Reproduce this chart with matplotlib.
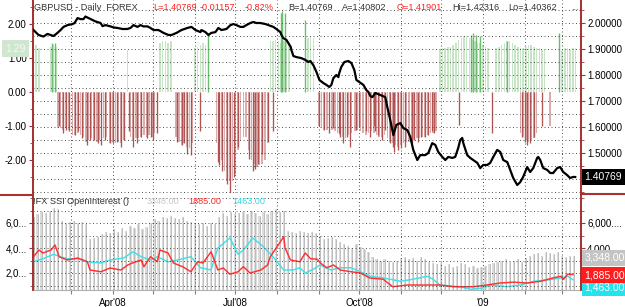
import numpy as np
import matplotlib
matplotlib.use("Agg")
import matplotlib.pyplot as plt
import matplotlib.dates as mdates
from matplotlib.ticker import MultipleLocator, FixedLocator, FuncFormatter
from matplotlib.transforms import blended_transform_factory
from matplotlib.lines import Line2D

plt.rcParams['font.family'] = ['Liberation Sans', 'DejaVu Sans']

# ---------------- data (days counted from 2008-02-02) ----------------
BASE_DATE = '2008-02-02'

price_days = [0, 3.7, 7.4, 10.4, 14.9, 17.8, 20.1, 22.3, 25.3, 29.0, 30.5, 32.7, 34.9, 37.1, 38.6, 40.9, 43.8, 46.1,
              49.8, 51.3, 53.5, 57.2, 59.4, 62.4, 66.1, 69.8, 72.1, 74.3, 77.3, 79.5, 81.7, 84.7, 86.9, 89.2, 92.9,
              96.6, 100.3, 102.6, 106.3, 110.0, 114.4, 117.4, 120.4, 124.1, 124.8, 127.8, 130.0, 132.2, 135.2, 137.4,
              139.7, 143.4, 146.4, 148.6, 150.8, 153.8, 156.0, 158.2, 161.2, 163.4, 165.7, 168.6, 172.4, 174.6, 178.3,
              180.5, 183.5, 184.3, 185.7, 188.0, 191.2, 191.7, 193.2, 195.4, 199.1, 202.1, 204.3, 205.8, 208.0, 210.3,
              212.5, 215.5, 217.7, 219.9, 221.4, 222.9, 225.1, 226.6, 227.3, 228.8, 231.1, 234.0, 236.3, 238.5, 240.0,
              242.2, 245.2, 247.4, 248.9, 250.4, 251.9, 254.1, 257.8, 261.5, 263.0, 265.2, 267.5, 269.7, 272.7, 274.9,
              277.9, 280.1, 282.3, 285.3, 287.5, 291.2, 293.5, 296.4, 298.7, 300.9, 303.9, 306.1, 308.3, 311.3, 313.5,
              315.7, 317.2, 318.7, 319.5, 322.4, 324.7, 326.9, 329.9, 332.1, 334.3, 337.3, 339.5, 341.8, 344.7, 347.0,
              349.2, 352.2, 354.4, 356.6, 359.6, 361.8, 364.0, 367.0, 369.2, 371.5, 374.4, 375.2, 376.7, 378.9, 381.9,
              384.1, 386.3, 389.3, 391.5, 393.8, 396.7, 398.9, 401.2, 402.7]
price_vals = [1.973, 1.954, 1.948, 1.958, 1.950, 1.962, 1.973, 1.985, 1.992, 1.996, 2.000, 2.019, 2.015, 2.015, 2.025,
              2.019, 2.012, 2.006, 2.000, 1.988, 1.992, 1.987, 1.983, 1.981, 1.977, 1.977, 1.981, 1.992, 1.985, 1.992,
              1.987, 1.987, 1.981, 1.973, 1.973, 1.962, 1.954, 1.954, 1.962, 1.973, 1.981, 1.985, 1.973, 1.965, 1.973,
              1.965, 1.954, 1.962, 1.965, 1.981, 1.973, 1.977, 1.992, 1.996, 1.992, 1.985, 1.985, 1.992, 2.000, 2.004,
              2.000, 2.000, 1.996, 1.992, 1.985, 1.977, 1.965, 1.954, 1.942, 1.935, 1.908, 1.896, 1.873, 1.869, 1.865,
              1.858, 1.850, 1.854, 1.838, 1.812, 1.781, 1.769, 1.762, 1.754, 1.762, 1.788, 1.800, 1.792, 1.808, 1.831,
              1.850, 1.854, 1.846, 1.819, 1.781, 1.773, 1.762, 1.742, 1.735, 1.719, 1.715, 1.731, 1.723, 1.715, 1.677,
              1.627, 1.569, 1.608, 1.615, 1.596, 1.588, 1.562, 1.512, 1.473, 1.492, 1.492, 1.500, 1.538, 1.531, 1.504,
              1.485, 1.473, 1.485, 1.481, 1.485, 1.519, 1.550, 1.558, 1.538, 1.492, 1.481, 1.473, 1.462, 1.442, 1.454,
              1.454, 1.462, 1.485, 1.512, 1.504, 1.473, 1.465, 1.435, 1.404, 1.377, 1.388, 1.408, 1.446, 1.427, 1.442,
              1.481, 1.485, 1.473, 1.442, 1.435, 1.423, 1.423, 1.442, 1.446, 1.427, 1.415, 1.404, 1.408, 1.40769]

ssi_pos_light_days = [0, 2, 4, 13, 15, 17, 70, 94, 96, 98, 100, 102, 120, 122, 124, 126, 128, 130,
                      176, 178, 180, 182, 184, 186, 188, 190, 204, 206, 208,
                      302, 304, 306, 308, 310, 312, 314, 316, 318, 320, 322, 324, 326, 328, 330, 332, 334, 336, 338,
                      344, 346, 348, 350, 352, 354, 356, 358, 360, 362, 364, 366, 368, 370, 372, 374, 376, 378, 380,
                      393, 395, 397, 399, 401, 403]
ssi_pos_light_vals = [1.45, 1.4, 1.3, 1.35, 1.4, 1.35, 1.25, 1.45, 1.5, 1.5, 1.45, 1.5, 1.3, 1.35, 1.4, 1.45, 1.4, 1.35,
                      1.5, 1.5, 1.55, 1.5, 1.45, 1.5, 1.5, 1.45, 1.6, 1.65, 1.6,
                      1.25, 1.3, 1.3, 1.35, 1.35, 1.4, 1.45, 1.55, 1.6, 1.65, 1.65, 1.6, 1.55, 1.5, 1.45, 1.45, 1.4,
                      1.35, 1.3,
                      1.3, 1.35, 1.4, 1.45, 1.5, 1.5, 1.45, 1.4, 1.35, 1.3, 1.3, 1.35, 1.4, 1.4, 1.35, 1.3, 1.3, 1.25,
                      1.25,
                      1.25, 1.3, 1.3, 1.25, 1.3, 1.3]
ssi_pos_dark_days = [14, 16, 130, 184, 185, 187, 202, 325, 327, 329, 332, 352, 391]
ssi_pos_dark_vals = [1.45, 1.45, 1.75, 2.35, 2.4, 2.35, 2.13, 1.7, 1.75, 1.7, 1.65, 1.5, 1.75]

ssi_neg_light_days = [18, 20, 22, 24, 26, 29, 31, 33, 35, 37, 39, 41, 43, 45, 47, 49, 52, 54,
                      57, 59, 61, 63, 65, 67, 72, 74, 76, 78, 80, 82, 84, 86, 88, 90, 92,
                      106, 108, 110, 112, 114, 116, 118,
                      136, 138, 140, 142, 144, 146, 148, 150, 152, 154, 156,
                      158, 160, 162, 164, 166, 168, 170, 172, 174,
                      212, 214, 216, 218, 220, 222, 224, 226, 228, 230, 232, 234, 236,
                      239, 241, 243, 245, 247, 249, 251, 253, 255, 257, 259, 261, 263, 265, 267, 269, 271, 273, 275,
                      277, 279, 281, 283, 285, 287, 289, 291, 293, 295, 297, 299,
                      362, 364, 366, 368, 370, 372, 374, 384]
ssi_neg_light_vals = [-1.05, -1.05, -1.1, -1.05, -1.1, -1.25, -1.25, -1.2, -1.25,
                      -1.3, -1.45, -1.4, -1.35, -1.4, -1.45, -1.4, -1.35, -1.3,
                      -1.5, -1.45, -1.5, -1.45, -1.5, -1.4, -1.3, -1.4, -1.35, -1.35, -1.3,
                      -1.25, -1.3, -1.25, -1.3, -1.2, -1.15,
                      -1.3, -1.45, -1.55, -1.5, -1.6, -1.65, -1.5,
                      -1.5, -1.8, -2.0, -2.3, -2.6, -2.6, -2.6, -2.4, -1.7, -1.4, -1.3,
                      -1.3, -1.7, -2.0, -2.1, -2.2, -2.15, -2.1, -2.0, -1.5,
                      -1.0, -1.05, -1.1, -1.1, -1.15, -1.1, -1.15, -1.2, -1.25, -1.3, -1.35, -1.25, -1.2,
                      -1.15, -1.1, -1.15, -1.2, -1.25, -1.2, -1.15, -1.2, -1.25, -1.3, -1.3, -1.25, -1.35, -1.45,
                      -1.5, -1.55, -1.6, -1.55, -1.5, -1.45, -1.45, -1.4, -1.4, -1.35, -1.35, -1.3, -1.3, -1.25,
                      -1.2, -1.2, -1.15,
                      -1.2, -1.3, -1.4, -1.45, -1.4, -1.35, -1.2, -1.0]
ssi_neg_dark_days = [19, 22, 24, 26, 31, 33, 36, 40, 42, 45, 48, 50, 53, 57, 59, 62, 65, 67, 71, 74,
                     77, 80, 84, 87, 89, 92, 107, 110, 112, 114, 117, 124, 137, 138, 140, 144, 146, 149, 152, 160,
                     163, 165, 167, 170, 174, 178,
                     212, 216, 220, 223, 227, 228, 230, 233, 235, 240, 242, 247, 250, 253, 254, 256, 259, 261, 265,
                     267, 268, 271, 273, 276, 281, 283, 286, 288, 291, 293, 296, 298,
                     316, 341, 363, 365, 367, 369, 372, 378]
ssi_neg_dark_vals = [-1.0, -1.2, -1.1, -1.15, -1.25, -1.15, -1.35, -1.55, -1.4, -1.4,
                     -1.5, -1.55, -1.4, -1.5, -1.5, -1.45, -1.6, -1.4, -1.15, -1.6,
                     -1.5, -1.3, -1.35, -1.3, -1.4, -1.2, -1.45, -1.55, -1.5, -1.8,
                     -1.85, -1.15, -2.05, -2.15, -2.3, -2.7, -2.95, -2.5, -1.6, -1.95,
                     -2.3, -2.25, -2.1, -1.8, -1.45, -1.15,
                     -1.0, -1.1, -1.2, -1.05, -1.2, -1.3, -1.5, -1.3, -1.6, -1.1,
                     -1.0, -1.15, -1.3, -1.0, -1.15, -1.25, -1.4, -1.1, -1.5, -1.6,
                     -1.75, -1.7, -1.65, -1.6, -1.5, -1.4, -1.45, -1.3, -1.3, -1.25,
                     -1.15, -1.2,
                     -0.95, -1.2, -1.3, -1.45, -1.55, -1.5, -1.3, -1.0]

oi_total_days = list(range(0, 403, 3))
oi_total_vals = [6500, 6700, 6900, 6800, 7000, 7200, 7100, 6200, 6000, 6100, 6200, 6000, 6100, 5900, 4700, 4800,
                 4900, 5100, 5300, 5200, 5500, 5300, 5600, 5400, 5800, 5600, 5900, 5500, 5700, 6000, 6300, 6200,
                 6500, 6400, 6600, 6400, 6300, 6500, 6200, 6100, 6000, 5900, 6000, 5800, 6000, 5900, 6500, 6800,
                 6600, 6900, 6700, 6800, 6900, 6700, 7000, 6800, 6600, 6900, 6700, 7000, 7100, 6900, 7000, 5400,
                 5300, 5200, 5400, 5300, 5200, 5300, 5200, 5000, 4700, 4800, 4900, 4700, 4500, 4300, 4200, 4000,
                 4300, 4100, 3900, 3700, 3300, 3100, 3000, 3100, 3000, 2900, 3000, 3200, 3300, 3100, 3200, 3000,
                 3300, 3100, 2900, 2800, 2700, 2800, 2600, 2700, 2500, 2600, 2800, 2700, 2500, 2600, 2400, 2500,
                 2600, 2700, 2800, 2900, 3000, 3100, 2900, 3000, 3100, 2900, 3200, 3400, 3500, 3600, 3400, 3700,
                 3600, 3500, 3700, 3400, 3300, 3400, 3348]

oi_long_days = [0, 4, 7, 13, 16, 19, 25, 33, 40, 42, 50, 57, 65, 70, 74, 80, 82, 87, 92, 94, 100, 104, 111, 117,
                122, 126, 132, 137, 141, 146, 152, 156, 161, 169, 174, 176, 181, 186, 187, 191, 198, 202, 206, 211,
                213, 218, 223, 228, 236, 243, 250, 260, 267, 278, 293, 302, 312, 327, 337, 347, 357, 367, 377, 386,
                392, 394, 397, 401]
oi_long_vals = [3300, 3840, 3600, 3840, 4240, 3300, 3040, 3200, 2900, 2240, 2100, 2400, 2240, 2640, 2820, 3040, 2500,
                3300, 2900, 3840, 3600, 2800, 2500, 2100, 2900, 2800, 3700, 2240, 2400, 1900, 2100, 2500, 2000, 2240,
                2640, 3300, 4100, 4900, 4000, 3040, 2900, 3600, 3140, 3100, 2820, 2420, 2640, 2240, 2100, 2000, 1600,
                1500, 900, 1040, 1040, 1040, 900, 900, 1040, 1200, 1270, 1200, 1340, 1600, 1740, 1500, 1900, 1885]

oi_short_days = [0, 7, 15, 20, 25, 33, 40, 50, 57, 67, 74, 80, 87, 92, 100, 107, 117, 124, 132, 137, 146, 152, 156,
                 163, 171, 178, 186, 193, 198, 202, 208, 213, 221, 228, 236, 243, 250, 260, 273, 282, 293, 297, 302,
                 317, 325, 334, 340, 352, 362, 372, 382, 392, 397, 401]
oi_short_vals = [2900, 3140, 3500, 3300, 3140, 3140, 2900, 2800, 3040, 3200, 3700, 3300, 3040, 3300, 2900, 3040, 3300,
                 2420, 2240, 4000, 4800, 3500, 3840, 4800, 4100, 3300, 2240, 2240, 2420, 2000, 2300, 2640, 2240, 2420,
                 2420, 2100, 1740, 1600, 1340, 1500, 1740, 1500, 1040, 900, 700, 800, 1040, 900, 1040, 1340, 1440, 1600,
                 1740, 1463]

price_left_ticks = [-2.0, -1.0, 0.0, 1.0, 2.0]
oi_left_ticks = [2000, 4000, 6000]
oi_left_labels = ['2,0...', '4,0...', '6,0...']
oi_right_labels = ['', '4,000....', '6,000....']

# ---------------- figure ----------------
W, H = 625, 307
fig = plt.figure(figsize=(W / 100, H / 100), dpi=100)
fig.patch.set_facecolor('white')


def fx(px):
    return px / W


def fy(py):
    return 1 - py / H


base = mdates.date2num(np.datetime64(BASE_DATE))


def X(days):
    return base + np.asarray(days, dtype=float)


SP = '#a83232'
GRID = dict(color='#505050', linestyle=(0, (1, 2.6)), linewidth=0.7)
FS = 7
HFS = 6.6

ax = fig.add_axes([fx(33), fy(193), fx(581) - fx(33), fy(0) - fy(193)])
axp = ax.twinx()
axb = fig.add_axes([fx(33), fy(290), fx(581) - fx(33), fy(196) - fy(290)], sharex=ax)
axbr = axb.twinx()

ax.set_xlim(base - 0.4, base + 407)
ax.set_ylim(-2.96, 2.72)
axp.set_ylim(1.3462, 2.0885)
axb.set_ylim(640, 8160)
axbr.set_ylim(640, 8160)

# SSI histogram
ax.bar(X(ssi_pos_light_days), ssi_pos_light_vals, width=1.15, color='#c8e5c8', linewidth=0, zorder=1)
ax.bar(X(ssi_neg_light_days), ssi_neg_light_vals, width=1.15, color='#dcadad', linewidth=0, zorder=1)
ax.vlines(X(ssi_pos_dark_days), 0, ssi_pos_dark_vals, color='#6cbf6c', linewidth=1.0, zorder=2)
ax.vlines(X(ssi_neg_dark_days), 0, ssi_neg_dark_vals, color='#b25454', linewidth=0.95, zorder=2)

# price
axp.plot(X(price_days), price_vals, color='black', linewidth=1.6, zorder=5)

# open interest
axb.bar(X(oi_total_days), oi_total_vals, width=1.7, bottom=0, color='#dcdcdc', linewidth=0, zorder=1)
axb.vlines(X(oi_total_days), 0, oi_total_vals, color='#b4b4b4', linewidth=0.55, zorder=1.2)
axb.plot(X(oi_short_days), oi_short_vals, color='#3fe0e6', linewidth=1.05, zorder=3)
axb.plot(X(oi_long_days), oi_long_vals, color='#ff3030', linewidth=1.05, zorder=4)

# ---- axes styling ----
month_loc = mdates.MonthLocator()


def xfmt(x, pos):
    d = mdates.num2date(x)
    if d.month == 1:
        return "'" + d.strftime('%y')
    if d.month in (4, 7, 10):
        return d.strftime("%b'%y")
    return ''


axb.xaxis.set_major_locator(month_loc)
axb.xaxis.set_major_formatter(FuncFormatter(xfmt))

for a in (ax, axp, axb, axbr):
    for s in a.spines.values():
        s.set_color(SP)
        s.set_linewidth(1.3)
    a.spines['top'].set_visible(False)

ax.spines['bottom'].set_visible(False)
axp.spines['bottom'].set_visible(False)
axb.spines['bottom'].set_color('#b0b0b0')
axb.spines['bottom'].set_linewidth(0.8)
axbr.spines['bottom'].set_visible(False)

# top-left axis
ax.yaxis.set_major_locator(FixedLocator(price_left_ticks))
ax.yaxis.set_minor_locator(MultipleLocator(0.5))
ax.yaxis.set_major_formatter(FuncFormatter(lambda v, p: '%.2f' % v))
ax.tick_params(axis='y', which='major', length=3, color=SP, labelsize=FS, pad=1.5)
ax.tick_params(axis='y', which='minor', length=2, color=SP)
ax.tick_params(axis='x', which='both', bottom=False, labelbottom=False)
ax.grid(axis='x', **GRID)

# top-right price axis (1.40000 label sits under the last-value box)
axp.yaxis.set_major_locator(MultipleLocator(0.1))
axp.yaxis.set_minor_locator(MultipleLocator(0.05))
axp.yaxis.set_major_formatter(FuncFormatter(lambda v, p: '' if abs(v - 1.4) < 1e-6 else '%.5f' % v))
axp.tick_params(axis='y', which='major', length=3, color=SP, labelsize=FS, pad=1.5)
axp.tick_params(axis='y', which='minor', length=2, color=SP)
axp.grid(axis='y', which='both', **GRID)
axp.tick_params(axis='x', which='both', bottom=False, labelbottom=False)

# bottom left
axb.yaxis.set_major_locator(FixedLocator(oi_left_ticks))
axb.yaxis.set_major_formatter(FuncFormatter(lambda v, p: oi_left_labels[oi_left_ticks.index(int(round(v)))]
                                            if int(round(v)) in oi_left_ticks else ''))
axb.yaxis.set_minor_locator(MultipleLocator(1000))
axb.tick_params(axis='y', which='major', length=3, color=SP, labelsize=FS, pad=1.5)
axb.tick_params(axis='y', which='minor', length=2, color=SP)
axb.tick_params(axis='x', which='major', length=3, color='#808080', labelsize=FS, pad=2.5)
axb.grid(axis='x', **GRID)

axbr.yaxis.set_major_locator(FixedLocator(oi_left_ticks))
axbr.yaxis.set_major_formatter(FuncFormatter(lambda v, p: oi_right_labels[oi_left_ticks.index(int(round(v)))]
                                             if int(round(v)) in oi_left_ticks else ''))
axbr.yaxis.set_minor_locator(MultipleLocator(1000))
axbr.tick_params(axis='y', which='major', length=3, color=SP, labelsize=FS, pad=1.5)
axbr.tick_params(axis='y', which='minor', length=2, color=SP)
axbr.grid(axis='y', which='both', **GRID)

# ---- value boxes ----
tr_p = blended_transform_factory(axp.transAxes, axp.transData)
axp.text(1.006, price_vals[-1], '%.5f' % price_vals[-1], transform=tr_p, ha='left', va='center', fontsize=FS + 0.5,
         color='white', bbox=dict(boxstyle='square,pad=0.25', fc='black', ec='none'), clip_on=False, zorder=10)
tr_l = blended_transform_factory(ax.transAxes, ax.transData)
ax.text(-0.032, 1.29, '1.29', transform=tr_l, ha='center', va='center', fontsize=FS + 0.5, color='#f4f8f4',
        bbox=dict(boxstyle='square,pad=0.3', fc='#cfe7cf', ec='none'), clip_on=False, zorder=10)
tr_f = blended_transform_factory(axbr.transAxes, fig.transFigure)
axbr.text(1.006, fy(258), '3,348.00', transform=tr_f, ha='left', va='center', fontsize=FS + 0.5,
          color='white', bbox=dict(boxstyle='square,pad=0.25', fc='#c4c4c4', ec='none'), clip_on=False, zorder=10)
axbr.text(1.006, fy(288), '1,463.00', transform=tr_f, ha='left', va='center', fontsize=FS + 0.5,
          color='white', bbox=dict(boxstyle='square,pad=0.25', fc='#22e3ee', ec='none'), clip_on=False, zorder=10)
axbr.text(1.006, fy(275), '1,885.00', transform=tr_f, ha='left', va='center', fontsize=FS + 0.5,
          color='white', bbox=dict(boxstyle='square,pad=0.25', fc='#ff1c1c', ec='none'), clip_on=False, zorder=11)

# ---- headers ----
hy = fy(7)
for xpix, txt, col in [(34, 'GBPUSD - Daily  FOREX', '#333333'), (153, 'L=1.40769', '#ff2020'),
                       (200, '-0.01157', '#ff2020'), (245, '-0.82%', '#ff2020'), (288, 'B=1.40769', '#333333'),
                       (342, 'A=1.40802', '#333333'), (397, 'O=1.41901', '#ff2020'),
                       (452, 'Hi=1.42316', '#333333'), (508, 'Lo=1.40362', '#333333'), (571, '...', '#ff2020')]:
    fig.text(fx(xpix), hy, txt, color=col, fontsize=HFS, ha='left', va='center')

by = fy(202)
for xpix, txt, col in [(33, '!FX SSI OpenInterest ()', '#333333'), (147, '3348.00', '#c8c8c8'),
                       (188, '1885.00', '#ff2a2a'), (232, '1463.00', '#2fdde6')]:
    fig.text(fx(xpix), by, txt, color=col, fontsize=HFS, ha='left', va='center')

# separator lines in the margins
fig.add_artist(Line2D([0, fx(33)], [fy(194.5), fy(194.5)], color=SP, linewidth=1.5))
fig.add_artist(Line2D([fx(581), 1], [fy(194), fy(194)], color=SP, linewidth=1.5))

fig.savefig('out.png', dpi=100, facecolor='white')
